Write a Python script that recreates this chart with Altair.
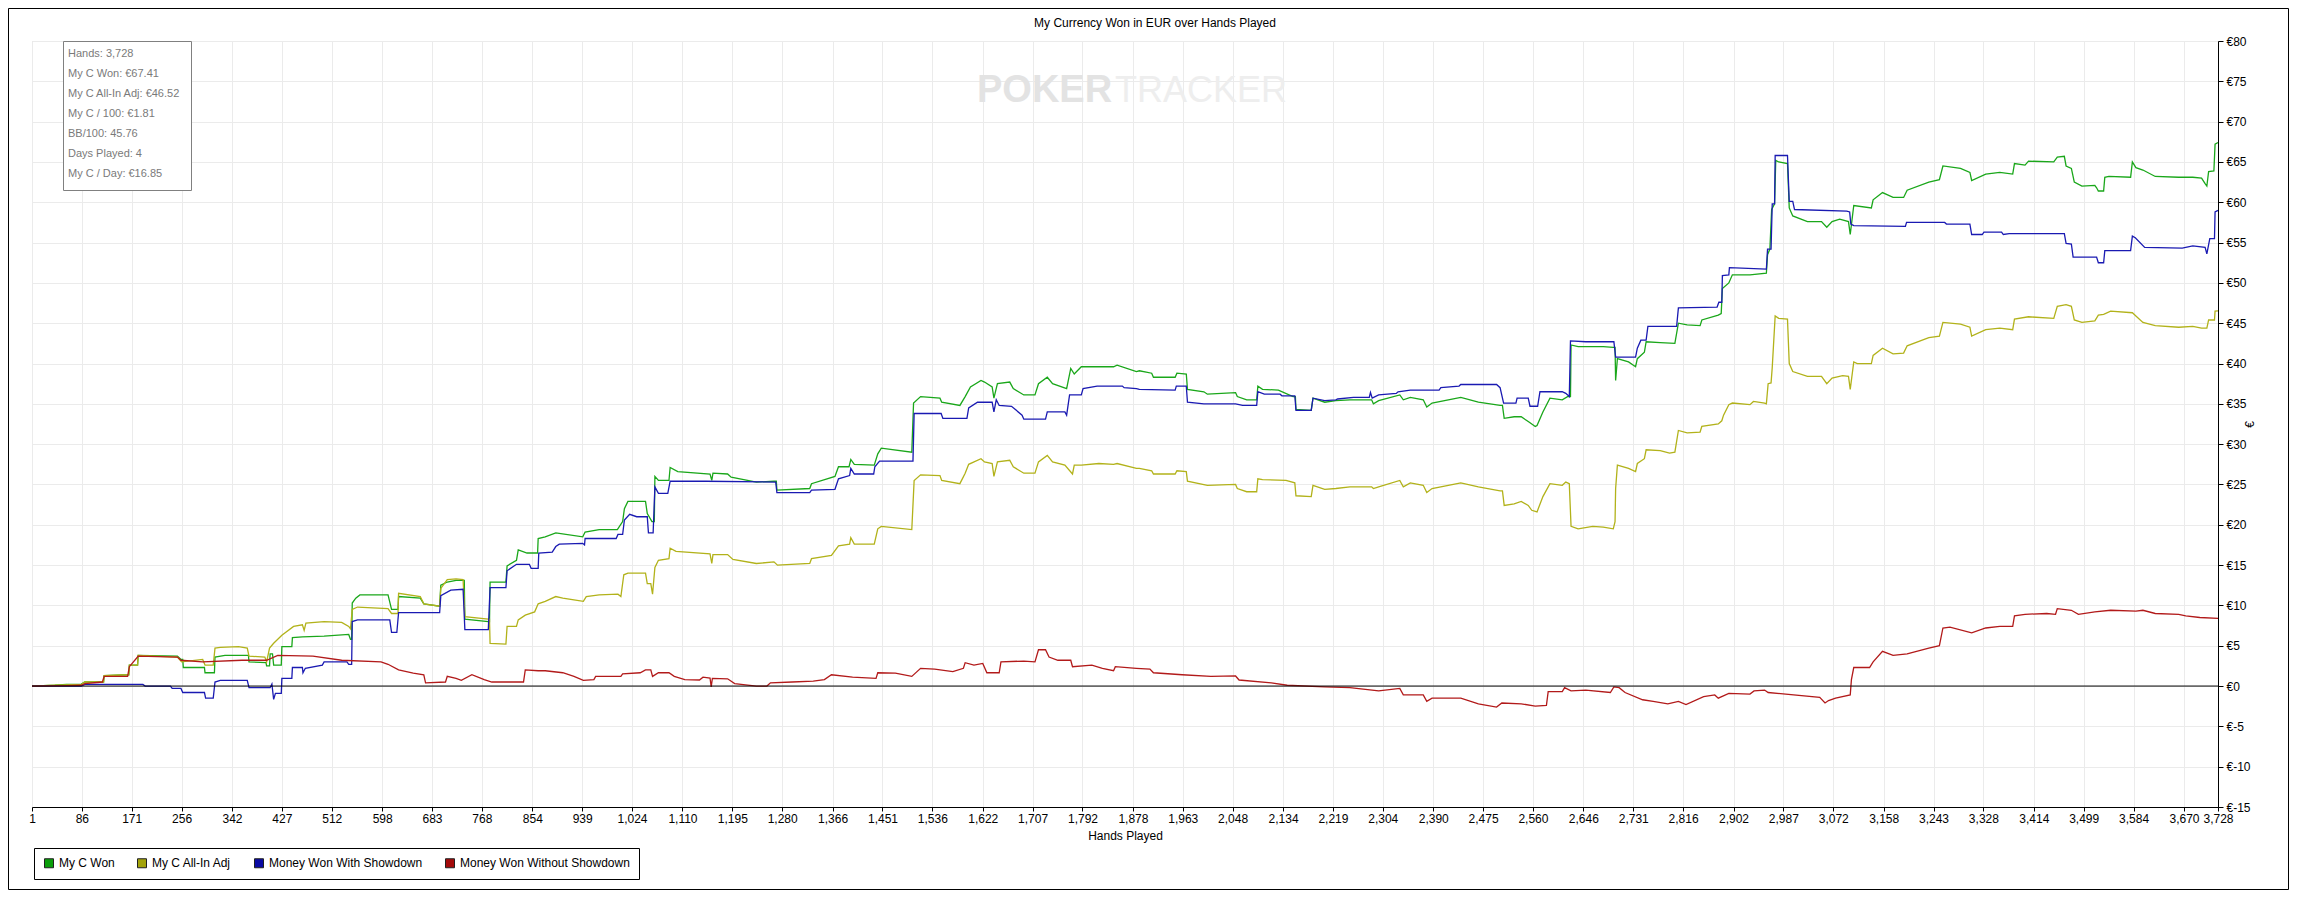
import altair as alt
import pandas as pd

# ---------------- data ----------------
series_names = ["My C Won", "My C All-In Adj", "Money Won With Showdown", "Money Won Without Showdown"]
line_colors = ["#1aa71a", "#b2b21a", "#1a1ab2", "#b21a1a"]
swatch_colors = ["#0a9e0a", "#a3a30a", "#0a0aa3", "#a30a0a"]

chart_title = "My Currency Won in EUR over Hands Played"

x_ticks = [1, 86, 171, 256, 342, 427, 512, 598, 683, 768, 854, 939, 1024, 1110, 1195, 1280,
           1366, 1451, 1536, 1622, 1707, 1792, 1878, 1963, 2048, 2134, 2219, 2304, 2390, 2475,
           2560, 2646, 2731, 2816, 2902, 2987, 3072, 3158, 3243, 3328, 3414, 3499, 3584, 3670, 3728]
y_ticks = [-15, -10, -5, 0, 5, 10, 15, 20, 25, 30, 35, 40, 45, 50, 55, 60, 65, 70, 75, 80]

info_lines = ["Hands: 3,728", "My C Won: €67.41", "My C All-In Adj: €46.52", "My C / 100: €1.81",
              "BB/100: 45.76", "Days Played: 4", "My C / Day: €16.85"]

won = [(1,0),(40,0.1),(60,0.2),(85,0.25),(91,0.5),(123,0.5),(124,1.3),(166,1.4),(167,2.6),(181,2.6),(182,3.8),
 (249,3.7),(255,3.3),(258,3.3),(259,2.3),(295,2.3),(296,1.65),(312,1.65),(313,3.6),(330,3.8),(370,3.8),(371,3.0),
 (400,2.9),(401,2.5),(406,2.5),(407,4.0),(411,4.0),(413,2.6),(426,2.6),(427,4.9),(444,4.9),(445,6.0),(462,6.1),
 (499,6.2),(541,6.4),(544,5.8),(546,5.8),(547,10.3),(553,10.9),(560,11.3),(608,11.3),(614,9.5),(625,9.5),(626,11.1),
 (663,10.9),(669,10.2),(696,9.9),(698,12.5),(709,12.9),(724,13.1),(738,13.1),(739,8.3),(779,8.0),(781,8.0),
 (782,12.9),(809,12.9),(811,14.9),(827,15.6),(830,16.9),(845,16.5),(863,16.5),(864,18.3),(876,18.5),(894,19.0),
 (940,18.5),(944,19.1),(968,19.4),(999,19.4),(1008,20.4),(1011,22.0),(1017,22.9),(1047,22.9),(1050,21.4),
 (1058,20.4),(1062,20.4),(1063,26.0),(1069,25.5),(1087,25.5),(1089,27.1),(1102,26.6),(1157,26.3),(1160,25.5),
 (1162,26.4),(1187,26.3),(1193,25.9),(1236,25.3),(1266,25.4),(1270,25.4),(1271,24.3),(1327,24.5),(1330,25.1),
 (1370,26.0),(1376,27.2),(1394,27.2),(1397,28.1),(1403,27.5),(1437,27.4),(1443,28.8),(1449,29.5),(1501,29.0),
 (1504,35.1),(1516,35.9),(1549,35.7),(1552,35.2),(1583,34.8),(1592,35.9),(1601,37.1),(1619,37.9),(1625,37.7),
 (1638,37.1),(1641,35.7),(1647,37.5),(1668,37.7),(1674,36.9),(1692,36.1),(1711,36.1),(1717,37.5),(1732,38.3),
 (1741,37.5),(1765,36.9),(1772,39.4),(1778,38.7),(1790,39.6),(1845,39.6),(1851,39.8),(1884,39.0),(1889,39.1),
 (1910,38.8),(1913,38.3),(1950,38.3),(1953,38.8),(1969,38.7),(1971,36.8),(1999,36.5),(2005,36.2),(2053,36.4),
 (2056,35.9),(2072,35.5),(2089,35.5),(2091,37.2),(2099,36.8),(2126,36.7),(2151,35.9),(2155,35.9),(2156,34.3),
 (2182,34.2),(2185,35.7),(2205,35.2),(2224,35.4),(2248,35.5),(2285,35.5),(2288,35.0),(2297,35.4),(2333,36.1),
 (2339,35.5),(2351,35.8),(2373,35.5),(2379,34.6),(2388,35.1),(2437,35.8),(2467,35.2),(2504,34.8),(2508,34.8),
 (2511,33.2),(2528,33.4),(2540,33.4),(2552,32.8),(2564,32.2),(2567,32.3),(2577,34.0),(2589,35.7),(2610,35.5),
 (2619,35.9),(2624,35.9),(2625,42.3),(2637,42.1),(2662,42.1),(2680,42.1),(2697,42.0),(2700,42.0),(2701,37.9),
 (2704,40.6),(2723,40.2),(2735,39.6),(2738,40.6),(2750,41.4),(2753,42.7),(2777,42.6),(2802,42.5),(2808,45.0),
 (2823,44.8),(2845,44.7),(2848,45.4),(2876,46.0),(2881,46.2),(2883,49.3),(2894,50.0),(2900,51.0),(2930,51.0),
 (2958,51.2),(2960,53.5),(2964,54.2),(2967,59.1),(2972,59.8),(2974,65.2),(2979,65.0),(2994,64.8),(2997,59.3),
 (3003,58.3),(3028,57.6),(3052,57.6),(3061,56.9),(3070,57.6),(3083,57.9),(3098,57.6),(3101,56.0),(3107,59.6),
 (3137,59.3),(3140,60.3),(3156,61.2),(3174,60.6),(3192,60.6),(3198,61.5),(3235,62.5),(3253,62.8),(3259,64.5),
 (3289,64.2),(3305,63.7),(3308,62.7),(3332,63.5),(3356,63.7),(3378,63.5),(3381,64.8),(3399,64.6),(3405,65.1),
 (3448,65.0),(3454,65.6),(3466,65.7),(3469,64.5),(3478,64.2),(3483,62.5),(3496,62.0),(3518,62.1),(3521,61.8),
 (3524,61.4),(3533,61.4),(3535,63.1),(3542,63.2),(3579,63.1),(3582,65.0),(3588,64.3),(3600,64.0),(3621,63.2),
 (3661,63.1),(3685,63.1),(3700,63.0),(3706,62.3),(3709,62.0),(3712,63.8),(3721,63.9),(3723,67.2),(3728,67.41)]

allin = [(1,0),(40,0.1),(85,0.2),(91,0.5),(123,0.5),(124,1.3),(166,1.4),(167,2.6),(181,2.6),(182,3.8),(249,3.6),
 (256,3.0),(292,3.3),(296,2.6),(310,2.6),(313,4.7),(322,4.8),(353,4.9),(368,4.7),(371,3.7),(398,3.6),(401,3.0),
 (406,4.7),(413,5.3),(427,6.3),(447,7.4),(462,7.6),(465,6.9),(468,7.8),(499,8.0),(529,7.9),(541,7.4),(544,7.1),
 (547,9.5),(556,9.8),(608,9.6),(614,9.0),(625,9.0),(626,11.5),(663,11.1),(669,10.2),(696,9.9),(698,12.1),
 (709,13.2),(724,13.3),(736,13.2),(739,8.6),(779,8.3),(781,8.3),(782,5.3),(809,5.2),(811,7.4),(827,7.4),
 (830,8.2),(842,8.8),(858,9.2),(864,10.2),(876,10.5),(894,11.1),(906,10.9),(925,10.7),(941,10.5),(946,11.1),
 (968,11.3),(1000,11.4),(1005,11.1),(1010,13.8),(1017,14.0),(1047,14.0),(1050,12.7),(1056,12.7),(1059,11.4),
 (1063,14.7),(1069,15.6),(1087,15.8),(1089,17.1),(1099,16.7),(1157,16.4),(1160,15.2),(1162,16.3),(1187,16.3),
 (1196,15.7),(1236,15.2),(1266,15.4),(1272,15.0),(1327,15.2),(1330,15.8),(1364,16.2),(1376,17.4),(1395,17.6),
 (1397,18.4),(1403,17.6),(1437,17.6),(1443,19.5),(1449,19.8),(1501,19.4),(1505,25.5),(1516,26.2),(1549,26.1),
 (1552,25.5),(1583,25.1),(1592,26.4),(1598,27.5),(1619,28.2),(1625,27.8),(1638,27.6),(1641,26.0),(1647,27.8),
 (1668,28.0),(1674,27.2),(1692,26.4),(1711,26.4),(1717,27.8),(1732,28.6),(1741,27.8),(1762,27.4),(1775,26.3),
 (1778,27.4),(1790,27.4),(1820,27.6),(1845,27.5),(1851,27.6),(1884,27.0),(1889,27.0),(1910,26.7),(1913,26.3),
 (1950,26.3),(1953,26.7),(1969,26.6),(1971,25.4),(2005,24.9),(2053,25.0),(2056,24.5),(2072,24.1),(2089,24.1),
 (2091,25.7),(2099,25.6),(2139,25.5),(2154,25.2),(2156,23.6),(2182,23.5),(2185,24.9),(2205,24.4),(2224,24.5),
 (2248,24.7),(2285,24.7),(2288,24.5),(2297,24.7),(2333,25.5),(2339,24.7),(2351,25.2),(2373,24.9),(2379,24.0),
 (2388,24.5),(2437,25.2),(2467,24.7),(2504,24.2),(2508,24.2),(2511,22.4),(2528,22.6),(2540,22.9),(2552,22.4),
 (2558,21.8),(2567,21.6),(2577,23.5),(2589,25.1),(2610,24.9),(2616,25.3),(2622,25.1),(2625,19.8),(2637,19.5),
 (2662,19.8),(2680,19.7),(2697,19.5),(2700,20.4),(2701,24.5),(2704,27.4),(2723,27.0),(2735,26.6),(2738,27.6),
 (2750,28.2),(2753,29.3),(2777,29.2),(2793,28.9),(2802,29.0),(2808,31.7),(2823,31.4),(2845,31.5),(2848,32.2),
 (2876,32.5),(2882,32.9),(2885,33.6),(2894,34.9),(2900,35.1),(2930,34.9),(2936,35.3),(2955,35.1),(2958,35.0),
 (2961,37.5),(2966,37.6),(2968,39.5),(2973,45.9),(2979,45.6),(2994,45.5),(2997,40.0),(3003,39.0),(3028,38.4),
 (3052,38.4),(3061,37.5),(3070,38.2),(3088,38.5),(3098,38.4),(3101,36.8),(3107,40.2),(3113,40.0),(3137,40.0),
 (3140,41.0),(3156,41.9),(3174,41.2),(3192,41.3),(3198,42.2),(3235,43.2),(3253,43.4),(3259,45.1),(3289,44.9),
 (3305,44.5),(3308,43.4),(3332,44.2),(3356,44.4),(3378,44.2),(3381,45.5),(3405,45.8),(3448,45.6),(3454,47.1),
 (3469,47.3),(3478,47.1),(3483,45.4),(3496,45.1),(3518,45.3),(3524,46.0),(3533,46.1),(3545,46.5),(3582,46.3),
 (3588,45.9),(3600,45.1),(3621,44.7),(3661,44.5),(3685,44.6),(3700,44.4),(3709,44.4),(3712,45.4),(3722,45.4),
 (3723,46.5),(3728,46.52)]

showdown = [(1,0),(85,0),(91,0.2),(190,0.2),(194,0),(237,0),(240,-0.3),(255,-0.3),(258,-0.8),(295,-0.8),
 (297,-1.5),(310,-1.5),(313,0.5),(322,0.7),(368,0.7),(371,-0.2),(407,-0.2),(410,0.25),(413,-1.65),(416,-0.9),
 (426,-0.9),(427,0.95),(444,0.95),(445,2.3),(462,2.3),(463,1.65),(467,2.2),(496,2.6),(499,3.0),(538,3.0),
 (541,2.7),(546,2.7),(547,8.0),(556,8.2),(611,8.2),(614,6.65),(623,6.65),(626,9.1),(696,9.1),(698,11.2),
 (715,11.9),(736,12.0),(739,7.0),(779,7.0),(782,12.2),(809,12.2),(811,14.3),(827,15.1),(849,15.1),(852,14.6),
 (864,14.6),(865,16.5),(888,16.6),(894,17.3),(900,17.6),(940,17.7),(943,17.5),(944,18.3),(997,18.3),
 (1000,18.8),(1008,18.8),(1011,20.6),(1020,21.3),(1032,21.0),(1050,21.0),(1052,19.0),(1060,19.0),(1063,24.7),
 (1069,23.9),(1085,23.9),(1089,25.4),(1150,25.4),(1269,25.3),(1271,24.0),(1327,24.0),(1330,24.3),(1370,24.4),
 (1376,25.7),(1395,26.1),(1397,27.0),(1403,26.3),(1436,26.3),(1438,27.2),(1446,27.9),(1503,27.9),(1505,33.8),
 (1551,33.8),(1554,33.2),(1595,33.2),(1598,34.5),(1613,35.2),(1638,35.2),(1641,34.0),(1645,35.5),(1650,34.8),
 (1671,34.7),(1689,33.6),(1692,33.1),(1729,33.1),(1732,34.0),(1762,34.0),(1765,33.6),(1770,36.1),(1790,36.1),
 (1793,36.9),(1817,37.2),(1860,37.2),(1863,37.0),(1884,36.9),(1889,36.8),(1950,36.7),(1952,37.2),(1969,37.2),
 (1971,35.2),(1999,35.0),(2053,35.0),(2065,34.8),(2089,34.8),(2091,36.5),(2102,36.2),(2129,36.2),(2132,36.0),
 (2154,36.0),(2156,34.2),(2182,34.2),(2185,35.7),(2205,35.4),(2224,35.5),(2227,35.6),(2254,35.8),(2281,35.8),
 (2283,36.4),(2286,35.7),(2297,36.1),(2327,36.3),(2330,36.5),(2351,36.7),(2400,36.7),(2403,37.0),(2434,37.2),
 (2437,37.4),(2498,37.4),(2504,37.0),(2510,35.1),(2531,35.1),(2533,35.7),(2552,35.7),(2555,34.7),(2568,34.7),
 (2572,36.5),(2610,36.5),(2616,36.3),(2622,35.9),(2624,42.8),(2650,42.7),(2698,42.7),(2701,40.8),(2735,40.8),
 (2738,41.9),(2744,42.9),(2753,42.9),(2756,44.6),(2805,44.6),(2808,46.9),(2874,47.0),(2877,47.6),(2882,47.6),
 (2883,50.9),(2894,51.0),(2895,51.9),(2958,51.7),(2960,54.2),(2966,54.2),(2968,59.8),(2972,59.8),(2973,65.8),
 (2994,65.8),(2997,60.1),(3003,60.1),(3006,59.1),(3095,58.9),(3100,58.8),(3102,57.3),(3107,57.1),(3195,57.0),
 (3197,57.5),(3262,57.5),(3265,57.3),(3305,57.3),(3308,56.0),(3326,56.0),(3329,56.3),(3359,56.3),(3362,56.0),
 (3372,56.1),(3466,56.1),(3469,54.9),(3478,54.8),(3481,53.2),(3521,53.2),(3524,52.5),(3533,52.5),(3535,54.0),
 (3579,54.0),(3582,55.8),(3587,55.6),(3603,54.4),(3667,54.3),(3685,54.6),(3706,54.4),(3709,53.6),(3714,55.5),
 (3722,55.5),(3723,58.8),(3728,59.0)]

no_showdown = [(1,0),(60,0.05),(85,0.1),(91,0.3),(121,0.5),(124,1.2),(164,1.2),(167,2.4),(182,3.7),(249,3.6),
 (255,3.2),(292,3.0),(359,3.2),(401,3.2),(420,3.8),(480,3.7),(529,3.2),(596,3.0),(608,2.7),(626,2.0),(651,1.6),
 (669,1.4),(672,0.4),(706,0.5),(709,1.2),(724,0.95),(733,0.7),(751,1.4),(772,0.8),(785,0.5),(839,0.5),(842,2.0),
 (864,1.9),(876,1.9),(906,1.65),(925,1.2),(941,0.7),(959,0.8),(962,1.2),(1005,1.2),(1008,1.5),(1038,1.65),
 (1047,2.0),(1056,2.0),(1059,1.2),(1069,1.65),(1087,1.65),(1096,1.2),(1114,0.8),(1139,0.75),(1145,1.1),
 (1157,1.0),(1159,-0.1),(1161,0.95),(1187,0.9),(1199,0.3),(1236,0.0),(1254,0.0),(1260,0.4),(1297,0.5),
 (1333,0.6),(1352,0.8),(1364,1.4),(1400,1.1),(1440,0.95),(1443,1.65),(1473,1.6),(1501,1.2),(1516,2.2),
 (1540,2.1),(1571,1.8),(1589,2.2),(1592,2.9),(1607,2.6),(1622,2.8),(1629,1.65),(1650,1.65),(1653,3.0),
 (1692,3.1),(1711,3.0),(1717,4.5),(1729,4.5),(1735,3.6),(1750,3.2),(1772,3.2),(1775,2.4),(1808,2.6),
 (1826,2.2),(1845,1.9),(1848,2.4),(1884,2.2),(1907,2.1),(1913,1.65),(1962,1.4),(2011,1.2),(2053,1.25),
 (2059,0.75),(2114,0.4),(2141,0.1),(2205,-0.1),(2248,-0.2),(2297,-0.6),(2333,-0.3),(2339,-1.1),(2373,-1.1),
 (2379,-1.9),(2388,-1.5),(2437,-1.5),(2467,-2.2),(2498,-2.6),(2507,-2.1),(2540,-2.2),(2564,-2.5),(2583,-2.4),
 (2586,-0.7),(2610,-0.7),(2614,-0.2),(2625,-0.6),(2650,-0.5),(2692,-0.8),(2698,-0.1),(2707,-0.2),(2717,-0.8),
 (2747,-1.7),(2765,-1.9),(2790,-2.2),(2808,-1.9),(2821,-2.3),(2851,-1.3),(2870,-1.1),(2876,-1.5),(2894,-0.9),
 (2930,-1.0),(2937,-0.6),(2955,-0.5),(2961,-0.8),(2991,-1.0),(3049,-1.4),(3058,-2.1),(3064,-1.8),(3076,-1.5),
 (3101,-1.1),(3103,0.8),(3107,2.3),(3134,2.3),(3140,3.0),(3156,4.3),(3174,3.8),(3198,4.0),(3235,4.7),
 (3253,5.0),(3259,7.2),(3271,7.3),(3308,6.6),(3332,7.2),(3356,7.4),(3378,7.4),(3381,8.7),(3399,8.9),
 (3436,9.0),(3451,8.9),(3454,9.6),(3478,9.4),(3490,8.9),(3518,9.2),(3545,9.4),(3588,9.3),(3600,9.4),
 (3621,9.0),(3661,8.9),(3673,8.7),(3697,8.5),(3728,8.4)]

# ---------------- build table ----------------
rows = []
for name, pts in zip(series_names, [won, allin, showdown, no_showdown]):
    for i, (h, v) in enumerate(pts):
        rows.append({"series": name, "hand": h, "value": v, "i": i})
df = pd.DataFrame(rows)

W, H = 2186, 766
FONT = "Liberation Sans"

x_scale = alt.Scale(domain=[1, 3728], nice=False, zero=False)
y_scale = alt.Scale(domain=[-15, 80], nice=False, zero=False)

x_axis = alt.Axis(values=x_ticks, format=",d", title="Hands Played", labelFlush=False,
                  labelOverlap=False, labelBound=False, grid=True, gridColor="#ebebeb",
                  domainColor="black", tickColor="black", tickSize=4, labelPadding=2,
                  labelFontSize=12, labelColor="black", labelFont=FONT,
                  titleFontSize=12, titleFontWeight="normal", titleColor="black", titleFont=FONT,
                  titlePadding=6)
y_axis = alt.Axis(values=y_ticks, orient="right", labelExpr="'€' + datum.value", title="€",
                  titleAngle=270, grid=True, gridColor="#ebebeb", domainColor="black",
                  tickColor="black", tickSize=5, labelPadding=3, labelFontSize=12,
                  labelColor="black", labelFont=FONT, titleFontSize=12, titleFontWeight="normal",
                  titleColor="black", titleFont=FONT, titlePadding=6, labelOverlap=False)

one = alt.Data(values=[{}])

frame = alt.Chart(one).mark_rect(fill="white", fillOpacity=0, stroke="black", strokeWidth=1).encode(
    x=alt.value(-23.5), x2=alt.value(W + 70.5), y=alt.value(-32.5), y2=alt.value(H + 82.5))

title_mark = alt.Chart(one).mark_text(text=chart_title, font=FONT, fontSize=12, color="black",
                                      align="center", baseline="middle").encode(
    x=alt.value(1123), y=alt.value(-18))

watermark1 = alt.Chart(one).mark_text(text="POKER", font=FONT, fontSize=38, fontWeight="bold",
                                      color="#e3e3e3", align="left", baseline="middle").encode(
    x=alt.value(945), y=alt.value(50))
watermark2 = alt.Chart(one).mark_text(text="TRACKER", font=FONT, fontSize=36, fontWeight="normal",
                                      color="#eeeeee", align="left", baseline="middle").encode(
    x=alt.value(1083), y=alt.value(50))

base = alt.Chart(df)
line_layers = []
for k, (name, col) in enumerate(zip(series_names, line_colors)):
    enc = dict(y=alt.Y("value:Q", scale=y_scale, axis=y_axis if k == 0 else alt.Axis(
                   values=y_ticks, orient="right", labelExpr="'€' + datum.value", title="€")),
               x=alt.X("hand:Q", scale=x_scale, axis=x_axis if k == 0 else alt.Axis(
                   values=x_ticks, format=",d", title="Hands Played")),
               order=alt.Order("i:Q"))
    line_layers.append(
        base.transform_filter(alt.datum.series == name)
        .mark_line(strokeWidth=1.3, interpolate="linear", color=col)
        .encode(**enc)
    )

zero = alt.Chart(alt.Data(values=[{"value": 0}])).mark_rule(color="black", strokeWidth=1).encode(
    y=alt.Y("value:Q", scale=y_scale, title="€"))

legend_src = pd.DataFrame({"series": series_names, "hand": [-500] * 4, "value": [0] * 4})
legend_layer = alt.Chart(legend_src).mark_square(size=81, filled=True, clip=True, opacity=1).encode(
    x=alt.X("hand:Q", scale=x_scale, title="Hands Played"),
    y=alt.Y("value:Q", scale=y_scale, title="€"),
    fill=alt.Fill("series:N", scale=alt.Scale(domain=series_names, range=swatch_colors),
                  legend=alt.Legend(title=None, orient="none", legendX=2, legendY=807,
                                    direction="horizontal", columns=4, symbolType="square",
                                    symbolSize=81, symbolStrokeColor="#202020", symbolStrokeWidth=1,
                                    labelFontSize=12, labelFont=FONT, labelColor="black",
                                    labelOffset=4, columnPadding=20, padding=9, labelLimit=300,
                                    strokeColor="black", fillColor="white", cornerRadius=0)),
)

info_box = alt.Chart(one).mark_rect(fill="white", stroke="#808080", strokeWidth=1).encode(
    x=alt.value(31.5), x2=alt.value(159.5), y=alt.value(0.5), y2=alt.value(149.5))
info_text = alt.Chart(one).mark_text(text="\n".join(info_lines), lineBreak="\n", lineHeight=20,
                                     font=FONT, fontSize=11, color="#7a7a7a", align="left",
                                     baseline="top").encode(x=alt.value(36), y=alt.value(7))

chart = alt.layer(frame, title_mark, watermark1, watermark2, *line_layers, zero, legend_layer,
                  info_box, info_text).properties(
    width=W, height=H,
    padding={"left": 24, "top": 33, "right": 71, "bottom": 83},
    autosize=alt.AutoSizeParams(type="none"),
).configure_view(stroke="black", strokeWidth=1).configure(background="white")

chart.save("out.html", embed_options={"renderer": "svg", "actions": False})
